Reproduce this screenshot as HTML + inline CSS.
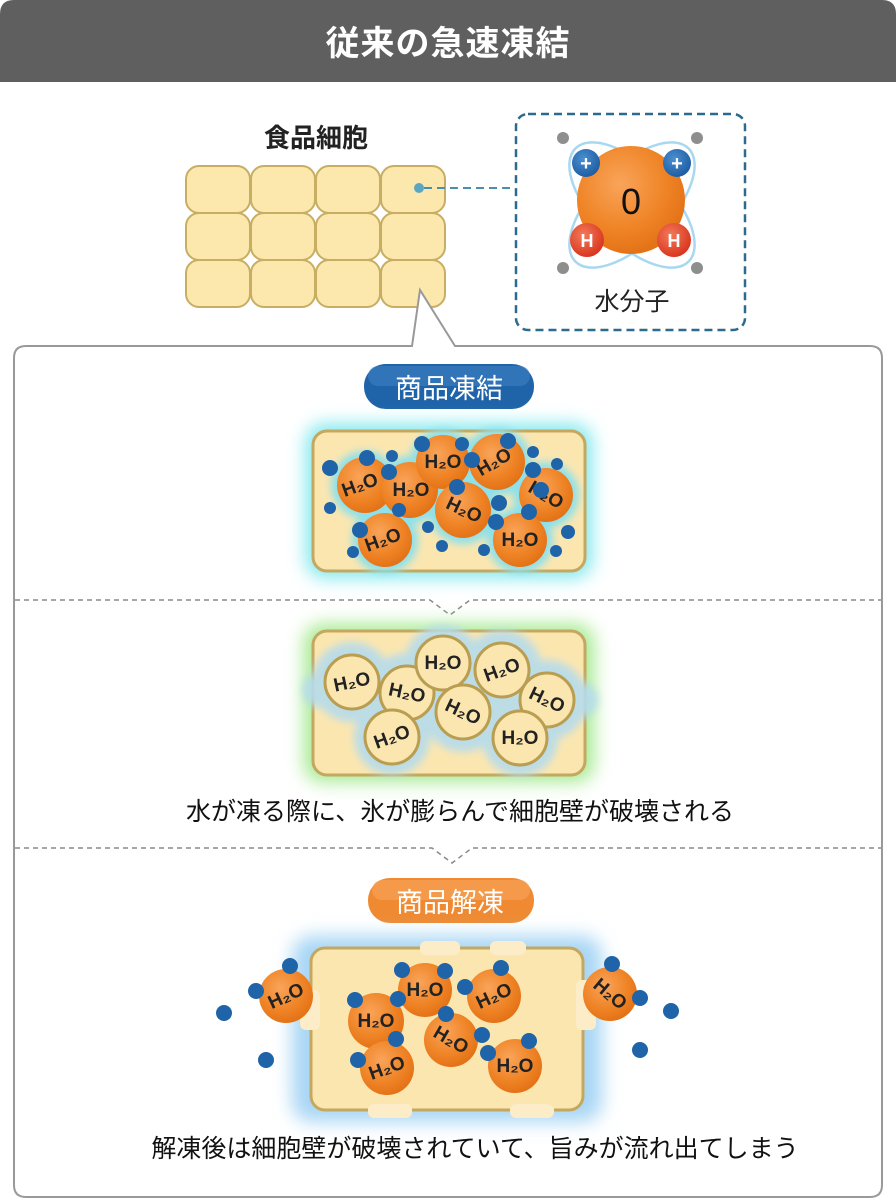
<!DOCTYPE html>
<html><head><meta charset="utf-8"><style>
html,body{margin:0;padding:0;background:#fff}
svg{display:block}
text{font-family:"Liberation Sans","Noto Sans CJK JP",sans-serif}
</style></head><body>
<svg width="896" height="1200" viewBox="0 0 896 1200" xmlns="http://www.w3.org/2000/svg">
<defs>
<radialGradient id="og" cx="0.4" cy="0.35" r="0.7"><stop offset="0" stop-color="#f9a45a"/><stop offset="0.6" stop-color="#ef8426"/><stop offset="1" stop-color="#e26f14"/></radialGradient>
<radialGradient id="rg" cx="0.4" cy="0.35" r="0.7"><stop offset="0" stop-color="#f37a5a"/><stop offset="1" stop-color="#d7321a"/></radialGradient>
<radialGradient id="bg" cx="0.4" cy="0.35" r="0.7"><stop offset="0" stop-color="#4b8fd0"/><stop offset="1" stop-color="#1b5aa0"/></radialGradient>
<filter id="blur" x="-30%" y="-30%" width="160%" height="160%"><feGaussianBlur stdDeviation="9"/></filter>
<filter id="blur2" x="-30%" y="-30%" width="160%" height="160%"><feGaussianBlur stdDeviation="4"/></filter>
</defs>
<!-- header -->
<path d="M0 14 Q0 0 14 0 H882 Q896 0 896 14 V82 H0Z" fill="#5f5f5f"/>
<text x="448" y="55" font-size="34" font-weight="bold" fill="#fff" text-anchor="middle" letter-spacing="1">従来の急速凍結</text>

<!-- food cells -->
<text x="316" y="147" font-size="26" font-weight="bold" fill="#222" text-anchor="middle">食品細胞</text>
<g fill="#fce8ad" stroke="#c7ae62" stroke-width="2">
<rect x="186" y="166" width="64" height="47" rx="13"/><rect x="251" y="166" width="64" height="47" rx="13"/><rect x="316" y="166" width="64" height="47" rx="13"/><rect x="381" y="166" width="64" height="47" rx="13"/>
<rect x="186" y="213" width="64" height="47" rx="13"/><rect x="251" y="213" width="64" height="47" rx="13"/><rect x="316" y="213" width="64" height="47" rx="13"/><rect x="381" y="213" width="64" height="47" rx="13"/>
<rect x="186" y="260" width="64" height="47" rx="13"/><rect x="251" y="260" width="64" height="47" rx="13"/><rect x="316" y="260" width="64" height="47" rx="13"/><rect x="381" y="260" width="64" height="47" rx="13"/>
</g>
<circle cx="419" cy="188" r="5" fill="#5aa7c4"/>
<line x1="424" y1="188" x2="515" y2="188" stroke="#4a8fae" stroke-width="2" stroke-dasharray="8,5"/>

<!-- molecule box -->
<rect x="516" y="114" width="229" height="216" rx="12" fill="#fff" stroke="#2c6a8f" stroke-width="2.5" stroke-dasharray="8,5"/>
<g fill="none" stroke="#9fd4ef" stroke-width="2.5" opacity="0.9">
<ellipse cx="632" cy="205" rx="80" ry="38" transform="rotate(45 632 205)"/>
<ellipse cx="632" cy="205" rx="80" ry="38" transform="rotate(-45 632 205)"/>
</g>
<circle cx="631" cy="200" r="54" fill="url(#og)"/>
<text x="631" y="214" font-size="36" fill="#111" text-anchor="middle">0</text>
<circle cx="586" cy="163" r="14" fill="url(#bg)"/><text x="586" y="170" font-size="20" font-weight="bold" fill="#fff" text-anchor="middle">+</text>
<circle cx="677" cy="163" r="14" fill="url(#bg)"/><text x="677" y="170" font-size="20" font-weight="bold" fill="#fff" text-anchor="middle">+</text>
<circle cx="587" cy="240" r="17" fill="url(#rg)"/><text x="587" y="247" font-size="18" font-weight="bold" fill="#fff" text-anchor="middle">H</text>
<circle cx="674" cy="240" r="17" fill="url(#rg)"/><text x="674" y="247" font-size="18" font-weight="bold" fill="#fff" text-anchor="middle">H</text>
<g fill="#8e8e8e"><circle cx="563" cy="138" r="6"/><circle cx="697" cy="138" r="6"/><circle cx="563" cy="268" r="6"/><circle cx="697" cy="268" r="6"/></g>
<text x="632" y="310" font-size="25" fill="#222" text-anchor="middle">水分子</text>

<!-- panel with tail -->
<path d="M26 346 H412 L420 290 L455 346 H870 Q882 346 882 358 V1185 Q882 1197 870 1197 H26 Q14 1197 14 1185 V358 Q14 346 26 346Z" fill="#fff" stroke="#999" stroke-width="2"/>

<!-- section 1 -->
<rect x="364" y="364" width="170" height="45" rx="22" fill="#1f63a8"/>
<rect x="368" y="366" width="162" height="20" rx="10" fill="#3d80c2" opacity="0.6"/>
<text x="449" y="398" font-size="27" fill="#fff" text-anchor="middle">商品凍結</text>
<rect x="306" y="424" width="286" height="154" rx="18" fill="#7fe8ee" filter="url(#blur)"/>
<rect x="313" y="431" width="272" height="140" rx="14" fill="#fbe6b0" stroke="#c4a860" stroke-width="3"/>
<g fill="#8ee0ea" filter="url(#blur2)">
<circle cx="365" cy="485" r="34"/><circle cx="410" cy="490" r="34"/><circle cx="443" cy="462" r="33"/><circle cx="497" cy="462" r="34"/><circle cx="463" cy="510" r="34"/><circle cx="546" cy="495" r="33"/><circle cx="385" cy="540" r="33"/><circle cx="520" cy="540" r="33"/>
</g>
<g fill="url(#og)">
<circle cx="365" cy="485" r="28"/><circle cx="410" cy="490" r="28"/><circle cx="443" cy="462" r="27"/><circle cx="497" cy="462" r="28"/><circle cx="463" cy="510" r="28"/><circle cx="546" cy="495" r="27"/><circle cx="385" cy="540" r="27"/><circle cx="520" cy="540" r="27"/>
</g>
<g font-size="19" font-weight="bold" fill="#222" text-anchor="middle">
<text x="360" y="491" transform="rotate(-20 360 485)">H₂O</text>
<text x="411" y="496">H₂O</text>
<text x="443" y="468">H₂O</text>
<text x="494" y="468" transform="rotate(-30 494 462)">H₂O</text>
<text x="464" y="516" transform="rotate(25 464 510)">H₂O</text>
<text x="546" y="501" transform="rotate(30 546 495)">H₂O</text>
<text x="383" y="546" transform="rotate(-20 383 540)">H₂O</text>
<text x="520" y="546">H₂O</text>
</g>
<g fill="#1f63a8">
<circle cx="330" cy="468" r="8"/><circle cx="367" cy="458" r="8"/><circle cx="392" cy="456" r="6"/><circle cx="389" cy="472" r="8"/><circle cx="422" cy="444" r="8"/><circle cx="462" cy="444" r="7"/><circle cx="472" cy="460" r="8"/><circle cx="508" cy="441" r="8"/><circle cx="533" cy="452" r="6"/><circle cx="533" cy="470" r="8"/><circle cx="557" cy="464" r="6"/><circle cx="541" cy="490" r="8"/><circle cx="529" cy="512" r="8"/><circle cx="499" cy="503" r="8"/><circle cx="496" cy="522" r="8"/><circle cx="457" cy="487" r="8"/><circle cx="399" cy="510" r="7"/><circle cx="330" cy="508" r="6"/><circle cx="360" cy="530" r="8"/><circle cx="428" cy="527" r="6"/><circle cx="442" cy="546" r="6"/><circle cx="484" cy="550" r="6"/><circle cx="568" cy="532" r="7"/><circle cx="556" cy="551" r="6"/><circle cx="353" cy="552" r="6"/>
</g>

<!-- divider 1 -->
<path d="M15 600 H430 L450 615 L470 600 H881" fill="none" stroke="#8a8a8a" stroke-width="1.5" stroke-dasharray="5,4"/>

<!-- section 2 -->
<rect x="304" y="624" width="290" height="158" rx="18" fill="#a6ea90" filter="url(#blur)"/>
<rect x="313" y="631" width="272" height="144" rx="14" fill="#fbe6b0" stroke="#c4a860" stroke-width="3"/>
<g fill="#b6dcec" opacity="0.9" filter="url(#blur2)">
<circle cx="352" cy="682" r="40"/><circle cx="407" cy="693" r="40"/><circle cx="443" cy="663" r="38"/><circle cx="502" cy="670" r="40"/><circle cx="463" cy="712" r="40"/><circle cx="547" cy="700" r="40"/><circle cx="392" cy="737" r="38"/><circle cx="520" cy="738" r="38"/><circle cx="320" cy="690" r="18"/><circle cx="580" cy="700" r="18"/>
</g>
<g fill="#fbe6b0" stroke="#b99d50" stroke-width="3">
<circle cx="352" cy="682" r="27"/><circle cx="407" cy="693" r="27"/><circle cx="443" cy="663" r="27"/><circle cx="502" cy="670" r="27"/><circle cx="463" cy="712" r="27"/><circle cx="547" cy="700" r="27"/><circle cx="392" cy="737" r="27"/><circle cx="520" cy="738" r="27"/>
</g>
<g font-size="19" font-weight="bold" fill="#222" text-anchor="middle">
<text x="352" y="688" transform="rotate(-12 352 682)">H₂O</text>
<text x="407" y="699" transform="rotate(12 407 693)">H₂O</text>
<text x="443" y="669">H₂O</text>
<text x="502" y="676" transform="rotate(-20 502 670)">H₂O</text>
<text x="463" y="718" transform="rotate(25 463 712)">H₂O</text>
<text x="547" y="706" transform="rotate(25 547 700)">H₂O</text>
<text x="392" y="743" transform="rotate(-20 392 737)">H₂O</text>
<text x="520" y="744">H₂O</text>
</g>
<text x="460" y="820" font-size="25" fill="#111" text-anchor="middle">水が凍る際に、氷が膨らんで細胞壁が破壊される</text>

<!-- divider 2 -->
<path d="M15 848 H432 L452 863 L472 848 H881" fill="none" stroke="#8a8a8a" stroke-width="1.5" stroke-dasharray="5,4"/>

<!-- section 3 -->
<rect x="368" y="878" width="166" height="45" rx="22" fill="#ef8a32"/>
<rect x="372" y="880" width="158" height="20" rx="10" fill="#f6a55a" opacity="0.6"/>
<text x="450" y="912" font-size="27" fill="#fff" text-anchor="middle">商品解凍</text>
<rect x="292" y="936" width="310" height="186" rx="20" fill="#a7d6f5" filter="url(#blur)"/>
<rect x="311" y="948" width="272" height="162" rx="14" fill="#fbe6b0" stroke="#c4a860" stroke-width="3"/>
<g fill="#fcedc8">
<rect x="420" y="941" width="40" height="14" rx="6"/><rect x="490" y="941" width="36" height="14" rx="6"/>
<rect x="368" y="1104" width="44" height="14" rx="6"/><rect x="510" y="1104" width="44" height="14" rx="6"/>
<rect x="300" y="990" width="20" height="40" rx="6"/><rect x="576" y="980" width="20" height="50" rx="6"/>
</g>
<g fill="url(#og)">
<circle cx="286" cy="996" r="27"/><circle cx="376" cy="1021" r="28"/><circle cx="425" cy="990" r="27"/><circle cx="494" cy="996" r="27"/><circle cx="451" cy="1040" r="27"/><circle cx="387" cy="1068" r="27"/><circle cx="515" cy="1066" r="27"/><circle cx="610" cy="994" r="27"/>
</g>
<g font-size="19" font-weight="bold" fill="#222" text-anchor="middle">
<text x="286" y="1002" transform="rotate(-25 286 996)">H₂O</text>
<text x="376" y="1027">H₂O</text>
<text x="425" y="996">H₂O</text>
<text x="494" y="1002" transform="rotate(-25 494 996)">H₂O</text>
<text x="451" y="1046" transform="rotate(30 451 1040)">H₂O</text>
<text x="387" y="1074" transform="rotate(-20 387 1068)">H₂O</text>
<text x="515" y="1072">H₂O</text>
<text x="610" y="1000" transform="rotate(40 610 994)">H₂O</text>
</g>
<g fill="#1f63a8">
<circle cx="290" cy="966" r="8"/><circle cx="256" cy="991" r="8"/><circle cx="224" cy="1013" r="8"/><circle cx="266" cy="1060" r="8"/>
<circle cx="402" cy="970" r="8"/><circle cx="445" cy="971" r="8"/><circle cx="465" cy="987" r="8"/><circle cx="501" cy="968" r="8"/>
<circle cx="355" cy="1000" r="8"/><circle cx="398" cy="999" r="8"/><circle cx="446" cy="1014" r="8"/><circle cx="482" cy="1035" r="8"/><circle cx="488" cy="1053" r="8"/><circle cx="529" cy="1041" r="8"/>
<circle cx="396" cy="1039" r="8"/><circle cx="358" cy="1060" r="8"/>
<circle cx="612" cy="964" r="8"/><circle cx="640" cy="998" r="8"/><circle cx="671" cy="1011" r="8"/><circle cx="640" cy="1050" r="8"/>
</g>
<text x="475" y="1157" font-size="25" fill="#111" text-anchor="middle">解凍後は細胞壁が破壊されていて、旨みが流れ出てしまう</text>
</svg>
</body></html>
